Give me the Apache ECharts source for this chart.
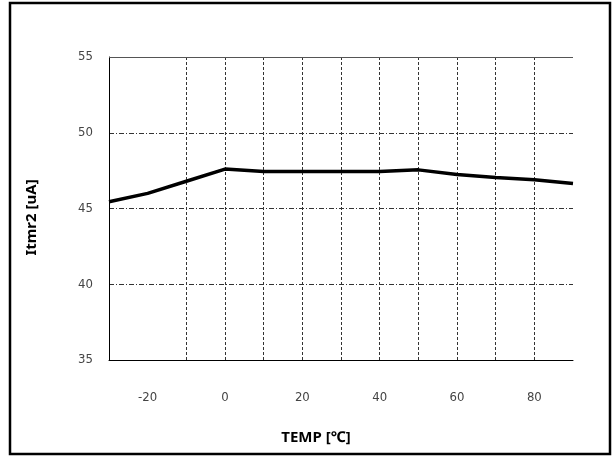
<!DOCTYPE html>
<html>
<head>
<meta charset="utf-8">
<script src="https://cdn.jsdelivr.net/npm/echarts@6/dist/echarts.min.js"></script>
<style>
html,body{margin:0;padding:0;background:#fff;}
#chart{width:613px;height:457px;}
</style>
</head>
<body>
<div id="chart"></div>
<script>
// Data
const temps = [-30, -20, -10, 0, 10, 20, 30, 40, 50, 60, 70, 80, 90];
const itmr2 = [45.45, 46.0, 46.8, 47.6, 47.45, 47.45, 47.45, 47.45, 47.55, 47.25, 47.05, 46.9, 46.65];
const xGridLines = [-10, 0, 10, 20, 30, 40, 50, 60, 70, 80];
const xTickLabels = [-20, 0, 20, 40, 60, 80];
const yTicks = [35, 40, 45, 50, 55];

const chart = echarts.init(document.getElementById('chart'));
const labelFont = {color: '#444', fontSize: 13, fontFamily: "'DejaVu Sans Condensed', 'Liberation Sans', sans-serif"};

chart.setOption({
  animation: false,
  backgroundColor: '#fff',
  graphic: [{
    type: 'rect',
    shape: {x: 10, y: 3, width: 600, height: 451},
    style: {fill: 'none', stroke: '#000', lineWidth: 2.5},
    silent: true
  }],
  grid: {left: 109, right: 40, top: 57, bottom: 97},
  xAxis: {
    type: 'value',
    min: -30, max: 90, interval: 10,
    name: 'TEMP [℃]',
    nameLocation: 'middle',
    nameGap: 70,
    nameTextStyle: {fontSize: 15, fontWeight: 'bold', color: '#000', fontFamily: 'Noto Sans', padding: [0, 50, 0, 0]},
    axisLine: {show: true, onZero: false, lineStyle: {color: '#000', width: 1}},
    axisTick: {show: false},
    splitLine: {show: false},
    axisLabel: {
      ...labelFont,
      margin: 31,
      formatter: v => (xTickLabels.indexOf(v) >= 0 ? String(v) : '')
    }
  },
  yAxis: {
    type: 'value',
    min: yTicks[0], max: yTicks[yTicks.length - 1], interval: 5,
    name: 'Itmr2 [uA]',
    nameLocation: 'middle',
    nameGap: 70,
    nameTextStyle: {fontSize: 15, fontWeight: 'bold', color: '#000', fontFamily: 'Noto Sans', padding: [0, 18, 0, 0]},
    axisLine: {show: true, onZero: false, lineStyle: {color: '#000', width: 1}},
    axisTick: {show: false},
    axisLabel: {...labelFont, margin: 16},
    splitLine: {show: true, lineStyle: {color: '#333', width: 1, type: [5, 2, 1, 2]}}
  },
  series: [{
    type: 'line',
    data: temps.map((t, i) => [t, itmr2[i]]),
    symbol: 'none',
    lineStyle: {color: '#000', width: 3.5},
    z: 5,
    markLine: {
      silent: true,
      symbol: 'none',
      label: {show: false},
      data: xGridLines.map(v => ({xAxis: v, lineStyle: {color: '#333', width: 1, type: [3, 2]}}))
        .concat([{yAxis: yTicks[yTicks.length - 1], lineStyle: {color: '#555', width: 1, type: 'solid'}}])
    }
  }]
});
</script>
</body>
</html>
